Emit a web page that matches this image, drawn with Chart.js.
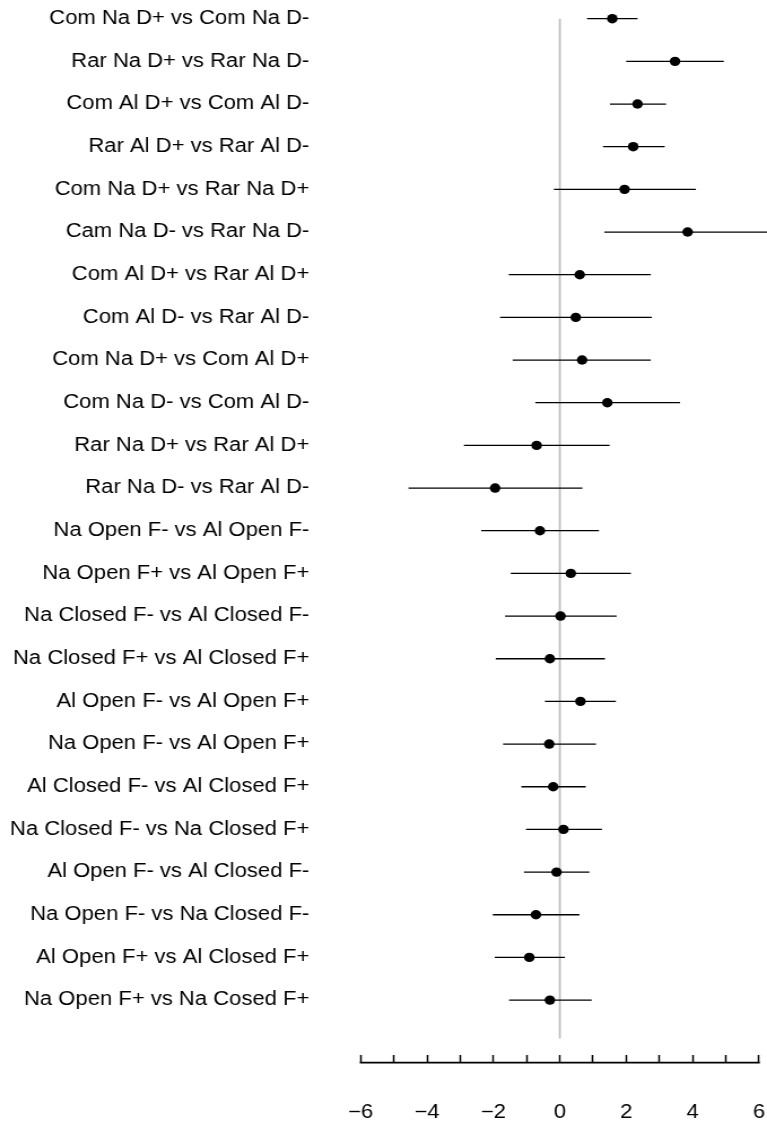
<!DOCTYPE html>
<html>
<head>
<meta charset="utf-8">
<script src="https://cdn.jsdelivr.net/npm/chart.js@4/dist/chart.umd.min.js"></script>
<style>
  html, body { margin: 0; padding: 0; background: #fff; overflow: hidden; }
  #forest { display: block; }
</style>
</head>
<body>
<canvas id="forest" width="679" height="1126" style="width:767px;height:1126px"></canvas>
<script>
// Pairwise comparisons, listed top to bottom
const comparisons = [
  "Com Na D+ vs Com Na D-",
  "Rar Na D+ vs Rar Na D-",
  "Com Al D+ vs Com Al D-",
  "Rar Al D+ vs Rar Al D-",
  "Com Na D+ vs Rar Na D+",
  "Cam Na D- vs Rar Na D-",
  "Com Al D+ vs Rar Al D+",
  "Com Al D- vs Rar Al D-",
  "Com Na D+ vs Com Al D+",
  "Com Na D- vs Com Al D-",
  "Rar Na D+ vs Rar Al D+",
  "Rar Na D- vs Rar Al D-",
  "Na Open F- vs Al Open F-",
  "Na Open F+ vs Al Open F+",
  "Na Closed F- vs Al Closed F-",
  "Na Closed F+ vs Al Closed F+",
  "Al Open F- vs Al Open F+",
  "Na Open F- vs Al Open F+",
  "Al Closed F- vs Al Closed F+",
  "Na Closed F- vs Na Closed F+",
  "Al Open F- vs Al Closed F-",
  "Na Open F- vs Na Closed F-",
  "Al Open F+ vs Al Closed F+",
  "Na Open F+ vs Na Cosed F+"
];

// Point estimates and confidence limits
const estimates = [1.58, 3.47, 2.34, 2.21, 1.95, 3.85, 0.60, 0.48, 0.67, 1.43, -0.70, -1.95,
                   -0.60, 0.33, 0.02, -0.30, 0.62, -0.32, -0.20, 0.11, -0.10, -0.72, -0.92, -0.30];
const lowerCI   = [0.82, 2.00, 1.51, 1.30, -0.18, 1.34, -1.54, -1.80, -1.42, -0.74, -2.89, -4.56,
                   -2.37, -1.48, -1.65, -1.93, -0.45, -1.71, -1.16, -1.02, -1.08, -2.02, -1.96, -1.53];
const upperCI   = [2.34, 4.94, 3.20, 3.16, 4.10, 6.60, 2.74, 2.77, 2.74, 3.62, 1.50, 0.68,
                   1.18, 2.14, 1.71, 1.36, 1.69, 1.09, 0.78, 1.27, 0.89, 0.59, 0.15, 0.96];

// Axis range and labelled ticks
const xMin = -6;
const xMax = 6;
const xTickLabels = [-6, -4, -2, 0, 2, 4, 6];
// Span of the vertical reference line (in row units)
const refLineRows = [0, 23.9];

const FONT_FAMILY = '"Liberation Sans", Arial, Helvetica, sans-serif';
const FONT_SIZE = 19.5;
const TICK_LEN = 7.4;
const TICK_PAD = 38;

const whiskerSets = comparisons.map((name, i) => ({
  type: 'line',
  label: name,
  data: [{ x: lowerCI[i], y: i }, { x: upperCI[i], y: i }],
  borderColor: '#000',
  borderWidth: 1.3,
  borderCapStyle: 'butt',
  pointRadius: 0,
  clip: false,
  order: 1
}));

const pointSet = {
  type: 'scatter',
  label: 'estimate',
  data: estimates.map((v, i) => ({ x: v, y: i })),
  backgroundColor: '#000',
  borderColor: '#000',
  borderWidth: 0,
  pointRadius: 4.7,
  order: 0
};

const refLine = {
  type: 'line',
  label: 'reference',
  data: refLineRows.map(r => ({ x: 0, y: r })),
  borderColor: '#bebebe',
  borderWidth: 1.8,
  pointRadius: 0,
  order: 2
};

// Row labels to the left of the plot and the horizontal axis baseline
const forestDecor = {
  id: 'forestDecor',
  afterDraw(chart) {
    const { ctx, chartArea, scales } = chart;
    const xs = scales.x, ys = scales.y;
    ctx.save();
    ctx.font = FONT_SIZE + 'px ' + FONT_FAMILY;
    ctx.fillStyle = '#000';
    ctx.textAlign = 'right';
    ctx.textBaseline = 'middle';
    const right = chartArea.left - 45.5;
    comparisons.forEach((t, i) => ctx.fillText(t, right, ys.getPixelForValue(i)));

    const yb = chartArea.bottom + TICK_LEN;
    ctx.strokeStyle = '#000';
    ctx.lineWidth = 1.8;
    ctx.beginPath();
    ctx.moveTo(xs.getPixelForValue(xMin) - 0.75, yb);
    ctx.lineTo(xs.getPixelForValue(xMax) + 0.75, yb);
    ctx.stroke();
    ctx.restore();
  }
};

new Chart(document.getElementById('forest'), {
  type: 'scatter',
  data: { datasets: [pointSet, ...whiskerSets, refLine] },
  options: {
    responsive: false,
    devicePixelRatio: 1,
    animation: false,
    events: [],
    layout: { autoPadding: false, padding: { left: 319.3, right: 7.1, top: 0, bottom: 1.9 } },
    plugins: { legend: { display: false }, tooltip: { enabled: false } },
    scales: {
      x: {
        type: 'linear',
        min: xMin,
        max: xMax,
        border: { display: false },
        grid: {
          drawOnChartArea: false,
          drawTicks: true,
          tickLength: TICK_LEN,
          tickColor: '#000',
          tickWidth: 1.5
        },
        ticks: {
          stepSize: 1,
          autoSkip: false,
          maxRotation: 0,
          padding: TICK_PAD,
          color: '#000',
          font: { family: FONT_FAMILY, size: FONT_SIZE },
          callback: v => xTickLabels.includes(v) ? String(v).replace('-', '\u2212') : ''
        },
        afterFit(scale) {
          scale.paddingLeft = 0;
          scale.paddingRight = 0;
          scale.paddingTop = 0;
          scale.paddingBottom = 0;
          scale.height = TICK_LEN + TICK_PAD + FONT_SIZE * 1.2;
        }
      },
      y: {
        type: 'linear',
        display: false,
        reverse: true,
        min: -0.438,
        max: 24.294
      }
    }
  },
  plugins: [forestDecor]
});
</script>
</body>
</html>
